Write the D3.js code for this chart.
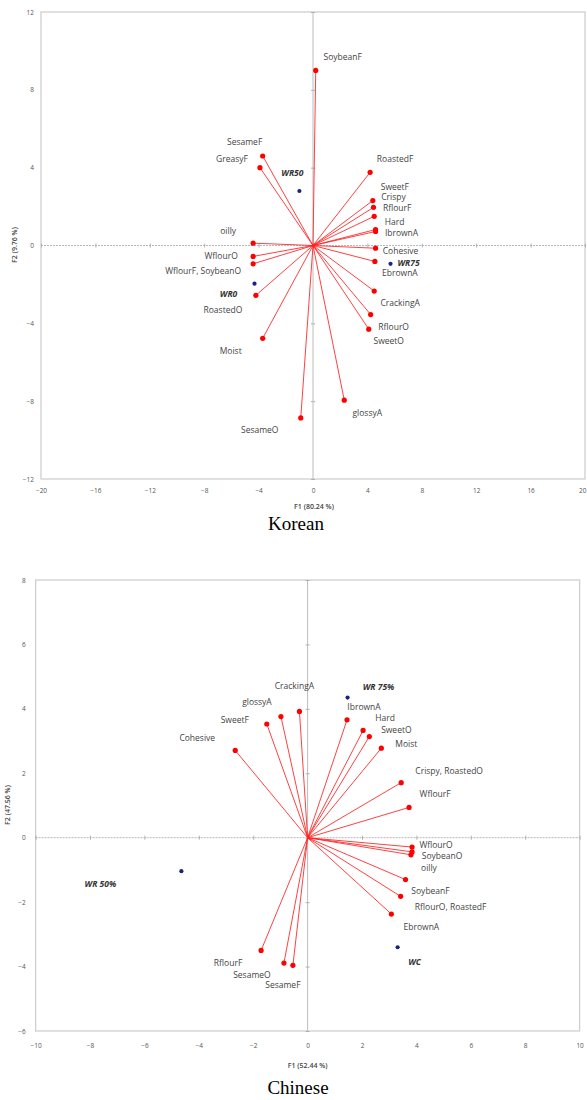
<!DOCTYPE html>
<html>
<head>
<meta charset="utf-8">
<script src="https://cdn.jsdelivr.net/npm/d3@7"></script>
<style>
  body { margin: 0; background: #fff; }
  svg { display: block; }
</style>
</head>
<body>
<svg id="chart" width="587" height="1100"></svg>
<script>
// ---- Korean panel data (F1 / F2 scores)
var korAttrs = ["SoybeanF", "SesameF", "GreasyF", "RoastedF", "SweetF", "Crispy", "RflourF", "Hard", "IbrownA",
    "Cohesive", "EbrownA", "CrackingA", "RflourO", "SweetO", "glossyA", "SesameO", "Moist", "RoastedO",
    "WflourF, SoybeanO", "WflourO", "oilly"];
var korAttrF1 = [0.2, -3.7, -3.9, 4.2, 4.4, 4.45, 4.5, 4.6, 4.6, 4.6, 4.55, 4.5, 4.24, 4.1, 2.3, -0.9, -3.7, -4.2, -4.4, -4.4, -4.4];
var korAttrF2 = [9.0, 4.6, 4.0, 3.76, 2.31, 1.96, 1.5, 0.82, 0.72, -0.14, -0.82, -2.34, -3.55, -4.3, -7.95, -8.86, -4.77, -2.56, -0.94, -0.56, 0.12];
var korSamples = ["WR50", "WR0", "WR75"];
var korSampleF1 = [-1.0, -4.3, 5.7];
var korSampleF2 = [2.8, -1.96, -0.94];
var korXTicks = [-20, -16, -12, -8, -4, 0, 4, 8, 12, 16, 20];
var korYTicks = [12, 8, 4, 0, -4, -8, -12];

// label offsets (px) from each point, Korean
var korAttrDx = [27, -18, -28, 25, 22, 20, 23, 19, 26, 25, 25, 26, 23, 20, 23, -41, -32, -33, -50, -32, -25];
var korAttrDy = [-13, -14, -9, -13, -14, -10, -8, -8, 2, 3, 12, 12, 12, 12, 13, 12, 13, 15, 7, 0, -12];
var korSampleDx = [-7, -26, 18];
var korSampleDy = [-18, 10, -1];

// ---- Chinese panel data
var chiAttrs = ["Cohesive", "SweetF", "glossyA", "CrackingA", "IbrownA", "Hard", "SweetO", "Moist", "Crispy, RoastedO",
    "WflourF", "WflourO", "SoybeanO", "oilly", "SoybeanF", "RflourO, RoastedF", "EbrownA", "RflourF", "SesameO", "SesameF"];
var chiAttrF1 = [-2.66, -1.5, -0.98, -0.3, 1.45, 2.04, 2.27, 2.71, 3.44, 3.73, 3.84, 3.84, 3.8, 3.6, 3.42, 3.08, -1.71, -0.87, -0.54];
var chiAttrF2 = [2.71, 3.53, 3.76, 3.92, 3.66, 3.33, 3.14, 2.78, 1.71, 0.94, -0.29, -0.44, -0.53, -1.3, -1.82, -2.37, -3.5, -3.89, -3.96];
var chiSamples = ["WR 75%", "WR 50%", "WC"];
var chiSampleF1 = [1.47, -4.64, 3.31];
var chiSampleF2 = [4.35, -1.04, -3.4];
var chiXTicks = [-10, -8, -6, -4, -2, 0, 2, 4, 6, 8, 10];
var chiYTicks = [8, 6, 4, 2, 0, -2, -4, -6];

var chiAttrDx = [-38, -32, -24, -5, 17, 22, 27, 25, 48, 26, 24, 30, 18, 25, 50, 30, -33, -32, -10];
var chiAttrDy = [-12, -4, -15, -25, -13, -12, -7, -4, -12, -13, -2, 4, 13, 11, 11, 13, 13, 12, 20];
var chiSampleDx = [31, -81, 17];
var chiSampleDy = [-11, 13, 15];

var svg = d3.select("#chart");
var W = 587;

function drawPanel(p) {
    var g = svg.append("g");
    var x = d3.scaleLinear().domain(p.xDomain).range([p.left, p.right]);
    var y = d3.scaleLinear().domain(p.yDomain).range([p.bottom, p.top]);

    // frame
    g.append("rect")
        .attr("x", p.left).attr("y", p.top)
        .attr("width", p.right - p.left).attr("height", p.bottom - p.top)
        .attr("fill", "none").attr("stroke", "#cfcfcf").attr("stroke-width", 1.3);

    // zero lines
    g.append("line")
        .attr("x1", p.left).attr("x2", p.right).attr("y1", y(0)).attr("y2", y(0))
        .attr("stroke", "#b8b8b8").attr("stroke-dasharray", "2,1");
    g.append("line")
        .attr("x1", x(0)).attr("x2", x(0)).attr("y1", p.top).attr("y2", p.bottom)
        .attr("stroke", "#bcbcbc");

    // small ticks across the zero lines
    var xt = g.append("g").attr("transform", "translate(0," + (y(0) - 2) + ")")
        .call(d3.axisBottom(x).tickValues(p.xTicks).tickSize(4).tickFormat(""));
    var yt = g.append("g").attr("transform", "translate(" + (x(0) + 2) + ",0)")
        .call(d3.axisLeft(y).tickValues(p.yTicks).tickSize(4).tickFormat(""));
    [xt, yt].forEach(function (a) {
        a.select(".domain").remove();
        a.selectAll("line").attr("stroke", "#b0b0b0");
    });

    // tick labels outside the frame
    var xl = g.append("g").attr("transform", "translate(0," + p.bottom + ")")
        .call(d3.axisBottom(x).tickValues(p.xTicks).tickSize(0).tickPadding(p.xPad));
    var yl = g.append("g").attr("transform", "translate(" + p.left + ",0)")
        .call(d3.axisLeft(y).tickValues(p.yTicks).tickSize(0).tickPadding(p.yPad));
    [xl, yl].forEach(function (a) {
        a.select(".domain").remove();
        a.selectAll("text").attr("font-family", "Open Sans").attr("font-size", 6.5).attr("fill", "#555");
    });
    // keep the last label inside the page
    xl.selectAll(".tick text")
        .filter(function (d) { return x(d) + 5 > W; })
        .attr("text-anchor", "end")
        .attr("x", function (d) { return W - 1 - x(d); });

    // axis titles
    g.append("text")
        .attr("x", (p.left + p.right) / 2 + p.xTitleShift).attr("y", p.xTitleY)
        .attr("text-anchor", "middle")
        .attr("font-family", "Open Sans").attr("font-size", 7).attr("font-weight", 600).attr("fill", "#444")
        .text(p.xTitle);
    g.append("text")
        .attr("transform", "translate(" + p.yTitleX + "," + p.yTitleY + ") rotate(-90)")
        .attr("text-anchor", "middle").attr("dy", "0.35em")
        .attr("font-family", "Open Sans").attr("font-size", 7).attr("font-weight", 600).attr("fill", "#444")
        .text(p.yTitle);

    // loading vectors
    var attrs = p.attrs.map(function (n, i) {
        return { name: n, f1: p.attrF1[i], f2: p.attrF2[i], dx: p.attrDx[i], dy: p.attrDy[i] };
    });
    g.selectAll(".vec").data(attrs).enter().append("line")
        .attr("class", "vec")
        .attr("x1", x(0)).attr("y1", y(0))
        .attr("x2", function (d) { return x(d.f1); })
        .attr("y2", function (d) { return y(d.f2); })
        .attr("stroke", "#ff2020").attr("stroke-opacity", 0.85).attr("stroke-width", 1);
    g.selectAll(".pt").data(attrs).enter().append("circle")
        .attr("class", "pt")
        .attr("cx", function (d) { return x(d.f1); })
        .attr("cy", function (d) { return y(d.f2); })
        .attr("r", 2.6).attr("fill", "#ff0000");
    g.selectAll(".lab").data(attrs).enter().append("text")
        .attr("class", "lab")
        .attr("x", function (d) { return x(d.f1) + d.dx; })
        .attr("y", function (d) { return y(d.f2) + d.dy; })
        .attr("dy", "0.35em").attr("text-anchor", "middle")
        .attr("font-family", "Open Sans").attr("font-size", 8.5).attr("fill", "#444")
        .text(function (d) { return d.name; });

    // sample scores
    var samples = p.samples.map(function (n, i) {
        return { name: n, f1: p.sampleF1[i], f2: p.sampleF2[i], dx: p.sampleDx[i], dy: p.sampleDy[i] };
    });
    g.selectAll(".spt").data(samples).enter().append("circle")
        .attr("class", "spt")
        .attr("cx", function (d) { return x(d.f1); })
        .attr("cy", function (d) { return y(d.f2); })
        .attr("r", 2.1).attr("fill", "#1c237e");
    g.selectAll(".slab").data(samples).enter().append("text")
        .attr("class", "slab")
        .attr("x", function (d) { return x(d.f1) + d.dx; })
        .attr("y", function (d) { return y(d.f2) + d.dy; })
        .attr("dy", "0.35em").attr("text-anchor", "middle")
        .attr("font-family", "Open Sans").attr("font-size", 8.5)
        .attr("font-weight", "bold").attr("font-style", "italic").attr("fill", "#333")
        .text(function (d) { return d.name; });

    // caption
    g.append("text")
        .attr("x", p.captionX).attr("y", p.captionY)
        .attr("text-anchor", "middle")
        .attr("font-family", "Liberation Serif").attr("font-size", 19).attr("fill", "#000")
        .text(p.caption);
}

drawPanel({
    left: 41, right: 585, top: 12, bottom: 479,
    xDomain: [-20, 20], yDomain: [-12, 12],
    xTicks: korXTicks, yTicks: korYTicks, xPad: 9, yPad: 7,
    xTitle: "F1 (80.24 %)", xTitleY: 509, xTitleShift: 1,
    yTitle: "F2 (9.76 %)", yTitleX: 15, yTitleY: 245,
    attrs: korAttrs, attrF1: korAttrF1, attrF2: korAttrF2, attrDx: korAttrDx, attrDy: korAttrDy,
    samples: korSamples, sampleF1: korSampleF1, sampleF2: korSampleF2, sampleDx: korSampleDx, sampleDy: korSampleDy,
    caption: "Korean", captionX: 296, captionY: 530
});

drawPanel({
    left: 35.6, right: 579.6, top: 580, bottom: 1031,
    xDomain: [-10, 10], yDomain: [-6, 8],
    xTicks: chiXTicks, yTicks: chiYTicks, xPad: 12, yPad: 10,
    xTitle: "F1 (52.44 %)", xTitleY: 1068, xTitleShift: 0,
    yTitle: "F2 (47.56 %)", yTitleX: 8, yTitleY: 805,
    attrs: chiAttrs, attrF1: chiAttrF1, attrF2: chiAttrF2, attrDx: chiAttrDx, attrDy: chiAttrDy,
    samples: chiSamples, sampleF1: chiSampleF1, sampleF2: chiSampleF2, sampleDx: chiSampleDx, sampleDy: chiSampleDy,
    caption: "Chinese", captionX: 298, captionY: 1094
});
</script>
</body>
</html>
